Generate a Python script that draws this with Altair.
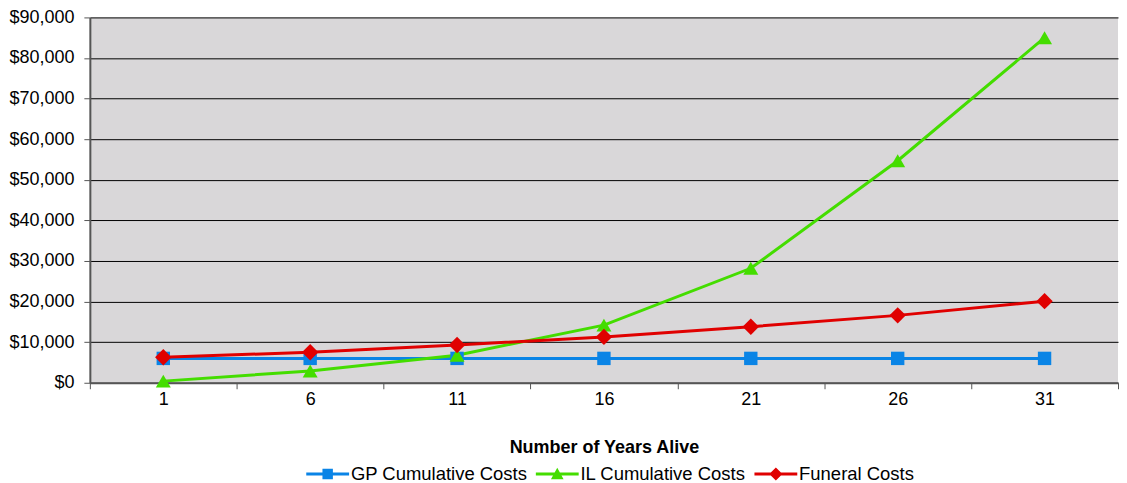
import altair as alt
import pandas as pd

years = [1, 6, 11, 16, 21, 26, 31]
gp_costs = [6000, 6000, 6000, 6000, 6000, 6000, 6000]
il_costs = [400, 2900, 6800, 14200, 28200, 54700, 85000]
funeral_costs = [6300, 7500, 9300, 11300, 13800, 16600, 20100]
series_names = ["GP Cumulative Costs", "IL Cumulative Costs", "Funeral Costs"]
series_colors = ["#0A84E6", "#44DD00", "#E00000"]
marker_shapes = ["square", "triangle-up", "diamond"]
marker_sizes = [180, 270, 220]
legend_shapes = [
    "M-3.9,-0.28H3.9V0.28H-3.9Z M-0.95,-0.95H0.95V0.95H-0.95Z",
    "M-3.9,-0.28H3.9V0.28H-3.9Z M0,-1.15L1.15,0.95H-1.15Z",
    "M-3.9,-0.28H3.9V0.28H-3.9Z M0,-1.2L1.2,0L0,1.2L-1.2,0Z",
]
y_ticks = [0, 10000, 20000, 30000, 40000, 50000, 60000, 70000, 80000, 90000]

rows = []
for name, vals in zip(series_names, [gp_costs, il_costs, funeral_costs]):
    for yr, v in zip(years, vals):
        rows.append({"year": yr, "value": v, "series": name, "series_l": name})
df = pd.DataFrame(rows)

FONT = "Liberation Sans"

x_enc = alt.X(
    "year:O",
    scale=alt.Scale(type="band", paddingInner=0, paddingOuter=0),
    bandPosition=0.5,
    axis=alt.Axis(
        title="Number of Years Alive",
        labelAngle=0,
        tickBand="extent",
        tickSize=6,
        tickColor="#555555",
        tickWidth=1,
        domainColor="#555555",
        domainWidth=2,
        labelPadding=2,
        labelFontSize=18,
        labelFont=FONT,
        labelColor="#000000",
        titleFont=FONT,
        titleFontSize=18,
        titleFontWeight="bold",
        titleColor="#000000",
        titlePadding=30,
        grid=False,
    ),
)
y_enc = alt.Y(
    "value:Q",
    scale=alt.Scale(domain=[0, 90000], nice=False),
    axis=alt.Axis(
        title=None,
        values=y_ticks,
        format="$,.0f",
        tickSize=6,
        tickColor="#555555",
        domainColor="#555555",
        domainWidth=2,
        labelPadding=10,
        labelFontSize=18,
        labelFont=FONT,
        labelColor="#000000",
        grid=True,
        gridColor="#000000",
        gridWidth=1,
        gridOpacity=1,
    ),
)

color_scale = alt.Scale(domain=series_names, range=series_colors)

base = alt.Chart(df)

lines = base.mark_line(strokeWidth=3).encode(
    x=x_enc,
    y=y_enc,
    color=alt.Color("series:N", scale=color_scale, legend=None),
    order=alt.Order("year:Q"),
)

points = base.mark_point(filled=True, opacity=1).encode(
    x=x_enc,
    y=y_enc,
    color=alt.Color("series:N", scale=color_scale, legend=None),
    shape=alt.Shape("series:N", scale=alt.Scale(domain=series_names, range=marker_shapes), legend=None),
    size=alt.Size("series:N", scale=alt.Scale(domain=series_names, range=marker_sizes), legend=None),
)

legend_props = dict(
    title=None,
    orient="none",
    direction="horizontal",
    legendX=229,
    legendY=448,
    symbolOpacity=1,
    symbolStrokeWidth=0,
    labelFont=FONT,
    labelFontSize=18.5,
    labelColor="#000000",
    labelOffset=14,
    labelLimit=0,
    columnPadding=7,
    symbolSize=121,
)

legend_layer = base.mark_point(filled=True, size=121, opacity=0).encode(
    x=x_enc,
    y=y_enc,
    color=alt.Color(
        "series_l:N",
        scale=alt.Scale(domain=series_names, range=series_colors),
        legend=alt.Legend(**legend_props),
    ),
    shape=alt.Shape(
        "series_l:N",
        scale=alt.Scale(domain=series_names, range=legend_shapes),
        legend=alt.Legend(**legend_props),
    ),
)

chart = (
    alt.layer(lines, points, legend_layer)
    .resolve_scale(color="independent", shape="independent", size="independent")
    .properties(
        width=1030,
        height=366,
        padding={"left": 0, "top": 0, "right": 0, "bottom": 0},
        background="#FFFFFF",
    )
    .configure_view(fill="#D9D7D9", stroke=None)
)

chart.save("out.html", embed_options={"renderer": "svg", "actions": False})
